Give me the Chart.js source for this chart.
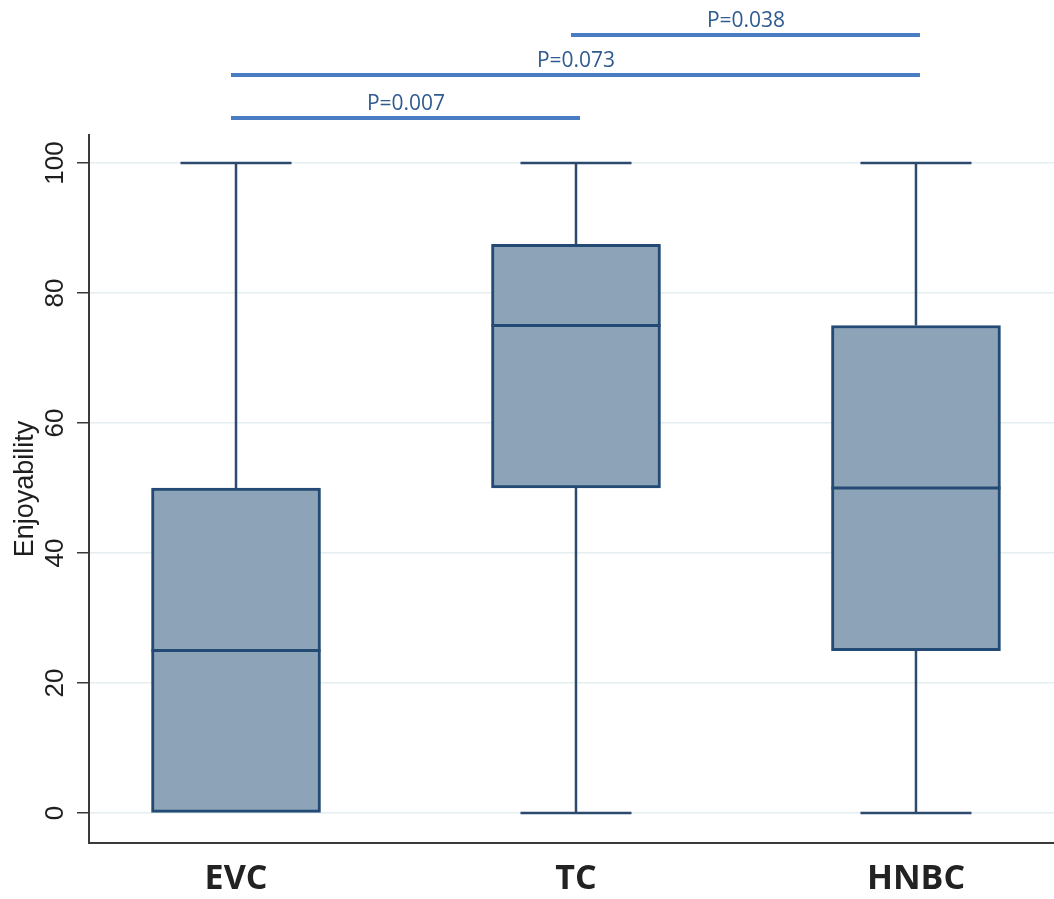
<!DOCTYPE html>
<html>
<head>
<meta charset="utf-8">
<script src="https://cdn.jsdelivr.net/npm/chart.js@4.4.1/dist/chart.umd.min.js"></script>
<style>
  html, body { margin: 0; padding: 0; background: #fff; }
  #wrap { width: 1054px; height: 899px; }
</style>
</head>
<body>
<div id="wrap"><canvas id="box-chart" width="1054" height="899"></canvas></div>
<script>
// Enjoyability by product - box plot summary per group
const groups = ['EVC', 'TC', 'HNBC'];
const minValues = [0, 0, 0];
const q1Values = [0, 50, 25];
const medianValues = [25, 75, 50];
const q3Values = [50, 87.5, 75];
const maxValues = [100, 100, 100];

const yTicks = [0, 20, 40, 60, 80, 100];

// pairwise comparisons (group numbers 1..3) with p-values
const compareFrom = [2, 1, 1];
const compareTo = [3, 3, 2];
const compareLabels = ['P=0.038', 'P=0.073', 'P=0.007'];

// styles
const boxFill = '#8da3b8';
const boxBorder = '#234a74';
const whiskerColor = '#2c4a6d';
const axisColor = '#3a3a3a';
const gridColor = '#e4eef1';
const pLineColor = '#4a7cc4';
const pTextColor = '#2f5b91';
const capWidth = 111;
const bracketOffsets = [100, 60, 17]; // px above plot top

const boxData = groups.map((g, i) => ({ x: i + 1, y: [q1Values[i], q3Values[i]] }));

const boxExtras = {
  id: 'boxExtras',
  afterDatasetsDraw(chart) {
    const { ctx, scales: { x, y } } = chart;
    const bars = chart.getDatasetMeta(0).data;
    const seg = (x1, y1, x2, y2) => {
      ctx.beginPath();
      ctx.moveTo(x1, y1);
      ctx.lineTo(x2, y2);
      ctx.stroke();
    };
    ctx.save();
    groups.forEach((g, i) => {
      const cx = x.getPixelForValue(i + 1);
      const half = capWidth / 2;
      ctx.strokeStyle = whiskerColor;
      ctx.lineWidth = 2.5;
      if (maxValues[i] > q3Values[i]) {
        seg(cx, y.getPixelForValue(q3Values[i]), cx, y.getPixelForValue(maxValues[i]));
        seg(cx - half, y.getPixelForValue(maxValues[i]), cx + half, y.getPixelForValue(maxValues[i]));
      }
      if (minValues[i] < q1Values[i]) {
        seg(cx, y.getPixelForValue(q1Values[i]), cx, y.getPixelForValue(minValues[i]));
        seg(cx - half, y.getPixelForValue(minValues[i]), cx + half, y.getPixelForValue(minValues[i]));
      }
      // median line across the box
      const bar = bars[i];
      ctx.strokeStyle = boxBorder;
      ctx.lineWidth = 3;
      const my = y.getPixelForValue(medianValues[i]);
      seg(bar.x - bar.width / 2, my, bar.x + bar.width / 2, my);
    });
    ctx.restore();
  },
  afterDraw(chart) {
    const { ctx, chartArea, scales: { x, y } } = chart;
    ctx.save();
    // rotated y tick labels
    ctx.fillStyle = '#1e1e1e';
    ctx.font = '26px "Liberation Sans", Arial, sans-serif';
    ctx.textAlign = 'center';
    ctx.textBaseline = 'middle';
    y.ticks.forEach(t => {
      ctx.save();
      ctx.translate(55, y.getPixelForValue(t.value));
      ctx.rotate(-Math.PI / 2);
      ctx.fillText(String(t.value), 0, 1);
      ctx.restore();
    });
    // significance brackets
    compareLabels.forEach((label, i) => {
      const x1 = x.getPixelForValue(compareFrom[i]);
      const x2 = x.getPixelForValue(compareTo[i]);
      const ly = chartArea.top - bracketOffsets[i];
      ctx.strokeStyle = pLineColor;
      ctx.lineWidth = 4;
      ctx.beginPath();
      ctx.moveTo(x1 - 5, ly);
      ctx.lineTo(x2 + 4, ly);
      ctx.stroke();
      ctx.fillStyle = pTextColor;
      ctx.font = '21px "Open Sans", sans-serif';
      ctx.textBaseline = 'alphabetic';
      ctx.fillText(label, (x1 + x2) / 2, ly - 8);
    });
    ctx.restore();
  }
};

new Chart(document.getElementById('box-chart'), {
  type: 'bar',
  data: {
    datasets: [{
      label: 'Enjoyability',
      data: boxData,
      backgroundColor: boxFill,
      borderColor: boxBorder,
      borderWidth: 3,
      borderSkipped: false,
      barThickness: 169,
    }]
  },
  options: {
    responsive: false,
    animation: false,
    layout: { padding: { top: 135, left: 0, right: 0, bottom: 0 } },
    plugins: {
      legend: { display: false },
      tooltip: { enabled: false },
    },
    scales: {
      x: {
        type: 'linear',
        offset: false,
        min: 0.5676,
        max: 3.406,
        grid: { display: false, drawTicks: false },
        border: { color: axisColor, width: 2 },
        afterBuildTicks: scale => { scale.ticks = groups.map((g, i) => ({ value: i + 1 })); },
        afterFit: scale => { scale.height = 56; },
        ticks: {
          autoSkip: false,
          padding: 16,
          color: '#222',
          font: { family: '"Open Sans", sans-serif', size: 34, weight: 'bold' },
          callback: value => groups[value - 1] || '',
        }
      },
      y: {
        min: -4.6,
        max: 104.3,
        afterBuildTicks: scale => { scale.ticks = yTicks.map(v => ({ value: v })); },
        afterFit: scale => { scale.width = 89; },
        grid: {
          color: gridColor,
          lineWidth: 1.5,
          tickColor: axisColor,
          tickLength: 12,
          tickWidth: 1.5,
        },
        border: { color: axisColor, width: 2 },
        ticks: { display: false },
        title: {
          display: true,
          text: 'Enjoyability',
          color: '#1e1e1e',
          padding: { top: 9 },
          font: { family: '"Liberation Sans", Arial, sans-serif', size: 27 },
        }
      }
    }
  },
  plugins: [boxExtras]
});
</script>
</body>
</html>
